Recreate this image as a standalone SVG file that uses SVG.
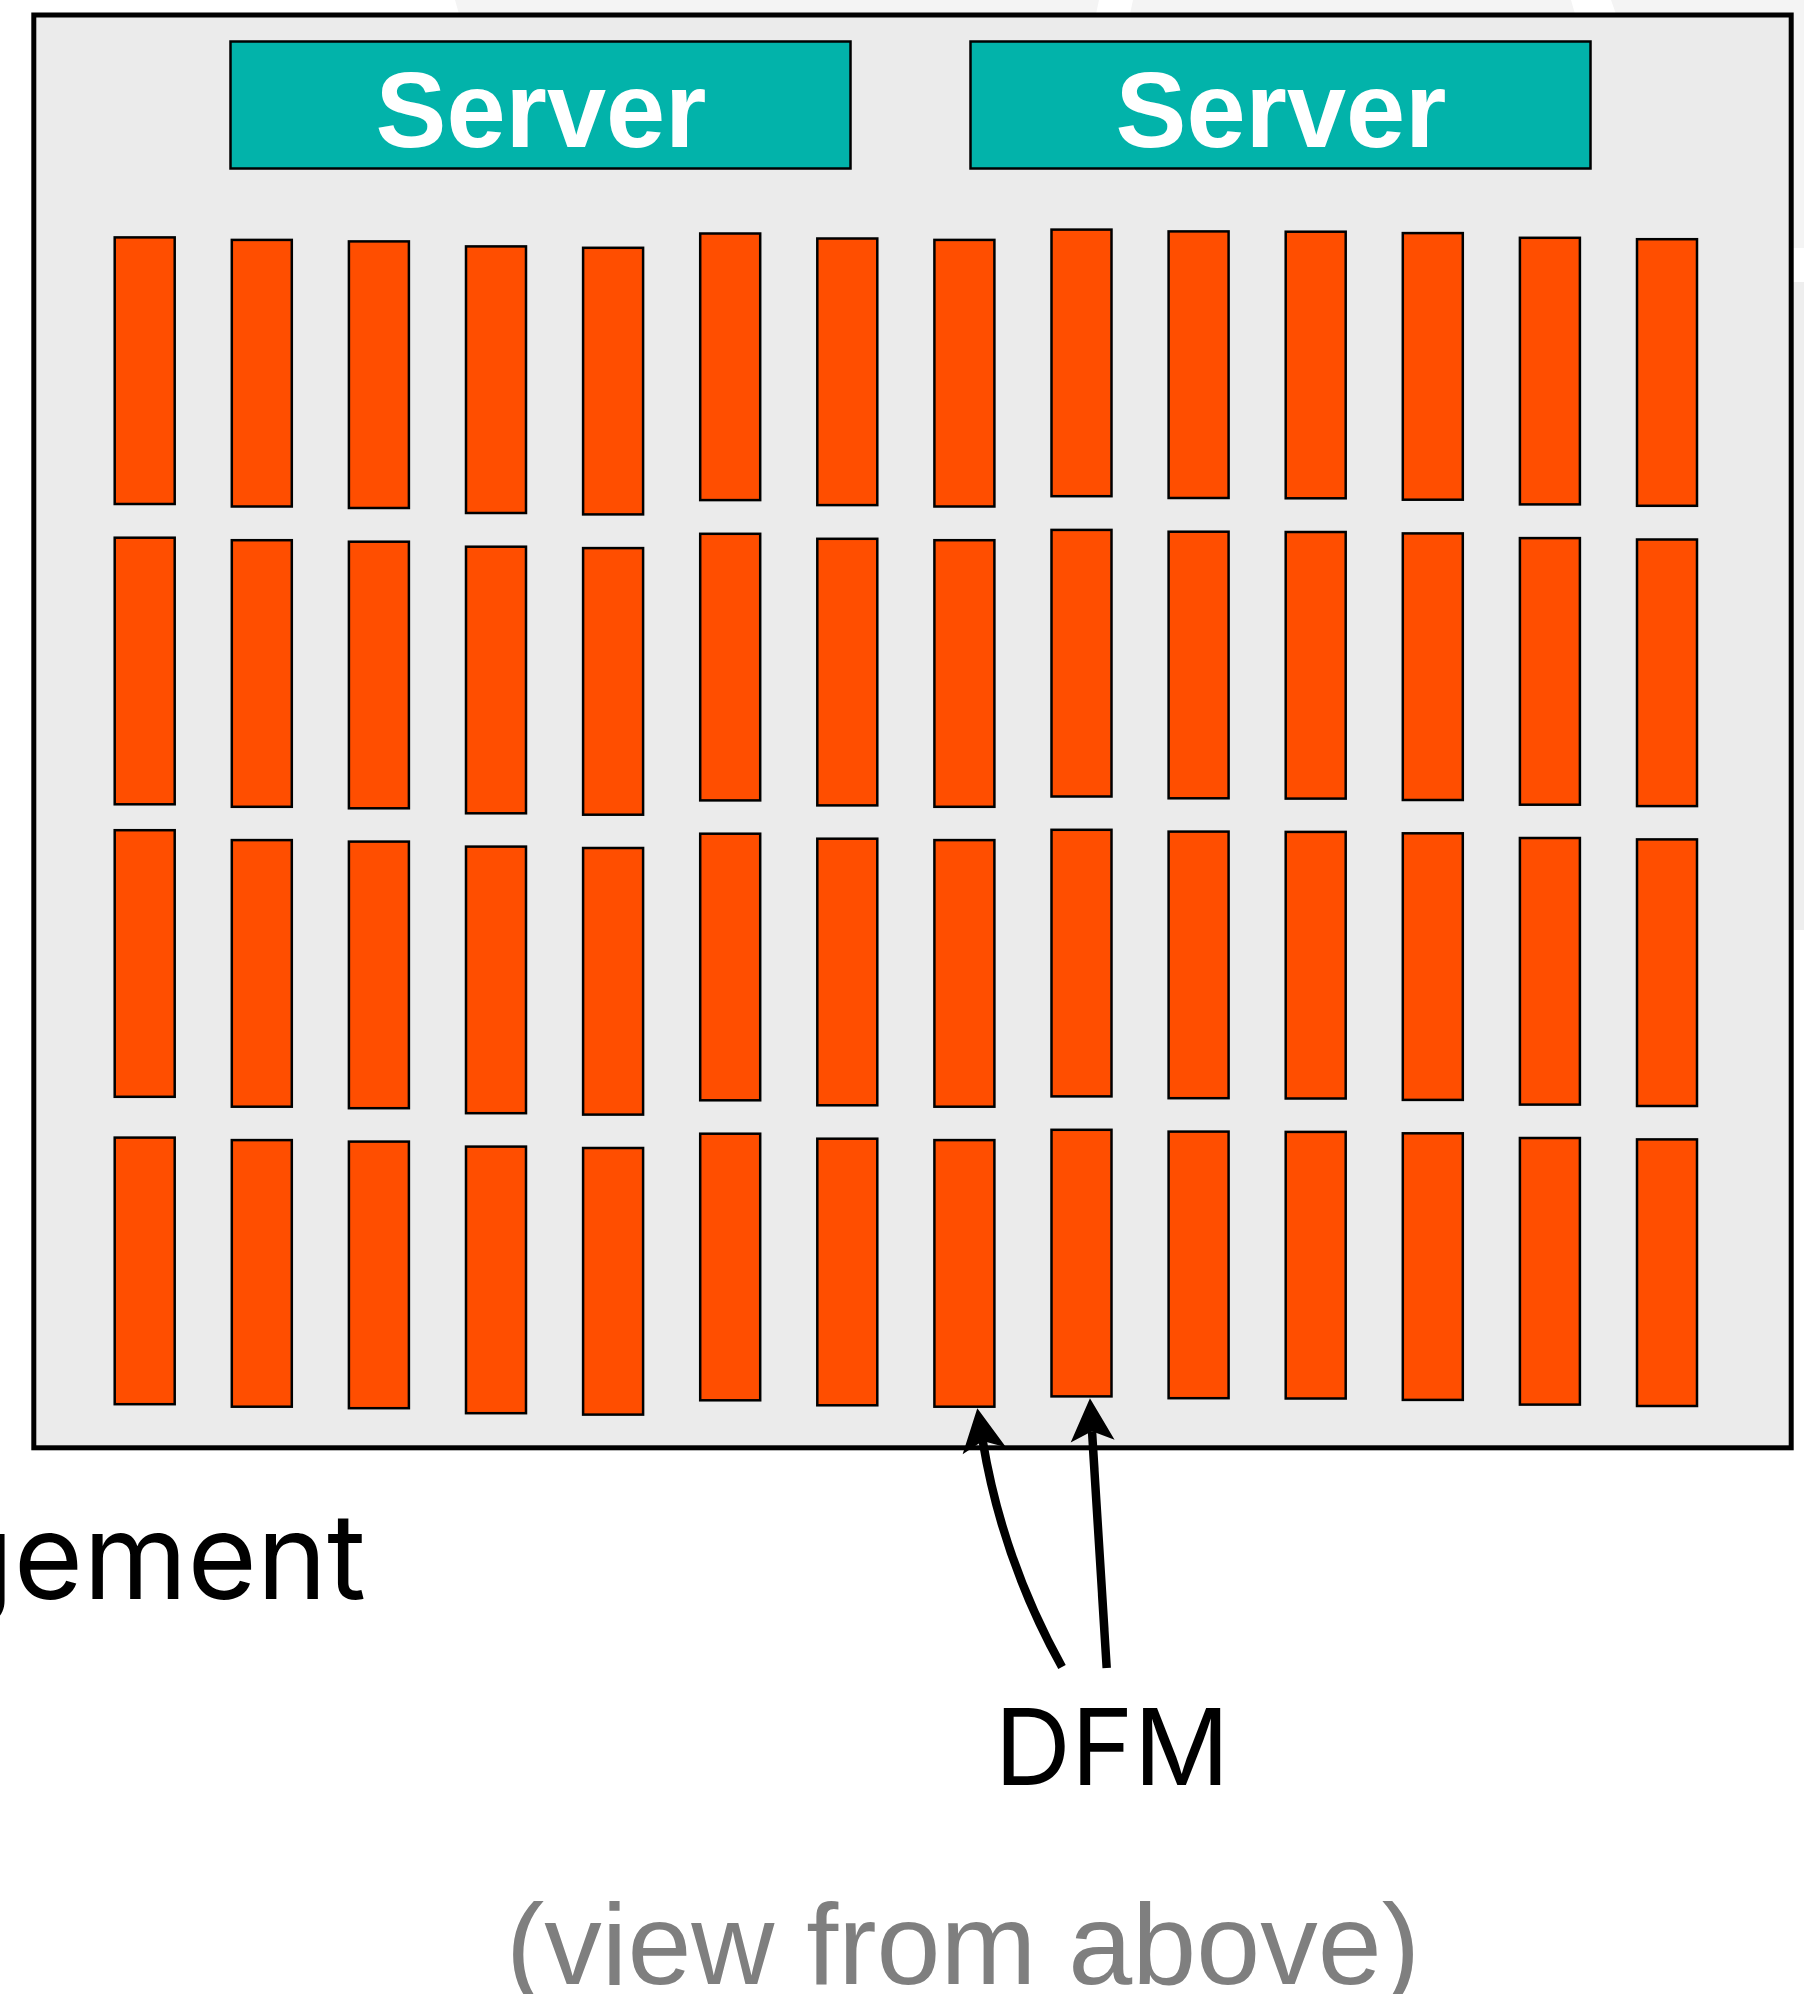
<svg xmlns="http://www.w3.org/2000/svg" width="1804" height="1994" viewBox="0 0 1804 1994">
<style>
.bg{fill:#ffffff}
.ghost{fill:#f4f4f4}
.frame{fill:#ebebeb;stroke:#000;stroke-width:5}
.server{fill:#02b3aa;stroke:#000;stroke-width:2.5}
.server-t{font-family:"Liberation Sans",Arial,sans-serif;font-weight:bold;font-size:108px;fill:#fff;text-anchor:middle}
.dfm{fill:#ff4e00;stroke:#000;stroke-width:2.5}
.conn{fill:none;stroke:#000;stroke-width:8.5;marker-end:url(#arrow)}
.lbl{font-family:Inter,"Noto Sans",sans-serif;fill:#000}
.note{font-family:"Liberation Sans",Arial,sans-serif;font-size:115px;fill:#7f7f7f;text-anchor:middle}
</style>
<defs>
<marker id="arrow" viewBox="-11 -23 45 46" markerWidth="45" markerHeight="46" refX="0" refY="0" orient="auto" markerUnits="userSpaceOnUse" overflow="visible">
<path d="M33,0 L-10,-22 L0,0 L-10,22 Z" fill="#000"/>
</marker>
<rect id="m" width="60" height="266.6" class="dfm"/>
</defs>
<rect class="bg" x="0" y="0" width="1804" height="1994"/>
<g id="background-ghosts">
<polygon class="ghost" points="455,0 1099,0 1096,14 459,14"/>
<polygon class="ghost" points="1133,0 1571,0 1575,14 1130,14"/>
<polygon class="ghost" points="1611,0 1804,0 1804,14 1616,14"/>
<rect class="ghost" x="1793" y="0" width="11" height="248"/>
<rect x="1793" y="282" width="11" height="648" fill="#eeeeee"/>
</g>
<g id="enclosure">
<rect class="frame" x="33.8" y="15" width="1757.4" height="1432.8"/>
</g>
<g id="server-1">
<rect class="server" x="230.5" y="41.5" width="620" height="127"/>
<text class="server-t" x="541" y="147" textLength="331" lengthAdjust="spacingAndGlyphs">Server</text>
</g>
<g id="server-2">
<rect class="server" x="970.5" y="41.5" width="620" height="127"/>
<text class="server-t" x="1281" y="147" textLength="331" lengthAdjust="spacingAndGlyphs">Server</text>
</g>
<g id="dfm-modules">
<g id="row-1">
<use href="#m" x="114.7" y="237.4"/><use href="#m" x="231.8" y="239.9"/><use href="#m" x="348.9" y="241.4"/><use href="#m" x="466.0" y="246.4"/><use href="#m" x="583.1" y="247.8"/><use href="#m" x="700.2" y="233.5"/><use href="#m" x="817.3" y="238.5"/><use href="#m" x="934.4" y="239.9"/><use href="#m" x="1051.5" y="229.6"/><use href="#m" x="1168.6" y="231.4"/><use href="#m" x="1285.7" y="231.7"/><use href="#m" x="1402.8" y="233.1"/><use href="#m" x="1519.9" y="237.8"/><use href="#m" x="1637.0" y="239.2"/>
</g>
<g id="row-2">
<use href="#m" x="114.7" y="537.7"/><use href="#m" x="231.8" y="540.2"/><use href="#m" x="348.9" y="541.7"/><use href="#m" x="466.0" y="546.7"/><use href="#m" x="583.1" y="548.1"/><use href="#m" x="700.2" y="533.8"/><use href="#m" x="817.3" y="538.8"/><use href="#m" x="934.4" y="540.2"/><use href="#m" x="1051.5" y="529.9"/><use href="#m" x="1168.6" y="531.7"/><use href="#m" x="1285.7" y="532.0"/><use href="#m" x="1402.8" y="533.4"/><use href="#m" x="1519.9" y="538.1"/><use href="#m" x="1637.0" y="539.5"/>
</g>
<g id="row-3">
<use href="#m" x="114.7" y="830.2"/><use href="#m" x="231.8" y="840.1"/><use href="#m" x="348.9" y="841.6"/><use href="#m" x="466.0" y="846.6"/><use href="#m" x="583.1" y="848.0"/><use href="#m" x="700.2" y="833.7"/><use href="#m" x="817.3" y="838.7"/><use href="#m" x="934.4" y="840.1"/><use href="#m" x="1051.5" y="829.8"/><use href="#m" x="1168.6" y="831.6"/><use href="#m" x="1285.7" y="831.9"/><use href="#m" x="1402.8" y="833.3"/><use href="#m" x="1519.9" y="838.0"/><use href="#m" x="1637.0" y="839.4"/>
</g>
<g id="row-4">
<use href="#m" x="114.7" y="1137.6"/><use href="#m" x="231.8" y="1140.1"/><use href="#m" x="348.9" y="1141.6"/><use href="#m" x="466.0" y="1146.6"/><use href="#m" x="583.1" y="1148.0"/><use href="#m" x="700.2" y="1133.7"/><use href="#m" x="817.3" y="1138.7"/><use href="#m" x="934.4" y="1140.1"/><use href="#m" x="1051.5" y="1129.8"/><use href="#m" x="1168.6" y="1131.6"/><use href="#m" x="1285.7" y="1131.9"/><use href="#m" x="1402.8" y="1133.3"/><use href="#m" x="1519.9" y="1138.0"/><use href="#m" x="1637.0" y="1139.4"/>
</g>
</g>
<g id="connectors">
<path class="conn" d="M1062,1667 Q1002.3,1559.3 982.7,1440.9"/>
<path class="conn" d="M1106.7,1668 L1092,1431.2"/>
</g>
<g id="label-gement">
<text class="lbl" x="366" y="1599" font-size="119" text-anchor="end">gement</text>
</g>
<g id="label-dfm">
<text class="lbl" x="1112" y="1785" font-size="106" text-anchor="middle">DFM</text>
</g>
<g id="label-view">
<text class="note" x="963" y="1984">(view from above)</text>
</g>
</svg>
